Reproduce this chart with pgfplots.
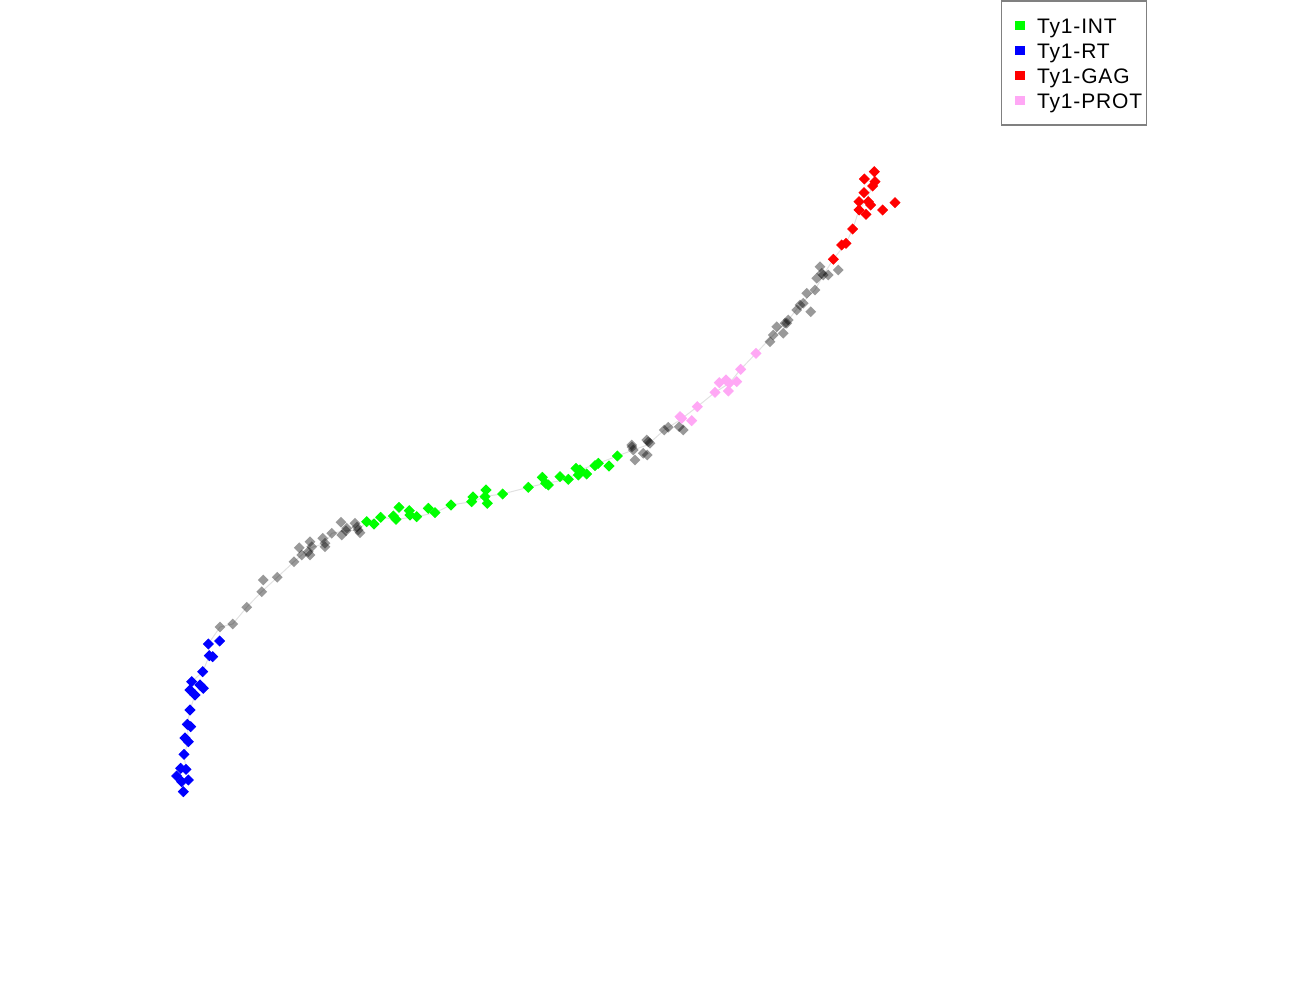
\documentclass[border=0pt]{standalone}
\usepackage{pgfplots}
\pgfplotsset{compat=1.18}
\usepackage{fontspec}
\setmainfont{Liberation Sans}
\newfontfamily\legfont{Liberation Sans}[LetterSpace=4]

\definecolor{cint}{RGB}{0,255,0}
\definecolor{crt}{RGB}{0,0,255}
\definecolor{cgag}{RGB}{255,0,0}
\definecolor{cprot}{RGB}{255,168,245}
\definecolor{clink}{RGB}{225,225,225}

% point positions read in picture pixels (y downwards)
\pgfplotstableread{
x y
220 627
232.7 624
246.7 607.3
261.7 591.7
263.3 580
277.3 577.3
294 561.7
299.3 547.7
301.7 555
310 541.7
311.7 546.7
310 555
308.3 551.7
322.7 538.3
325 543.3
325 546.7
331.7 533.3
341 522.3
341.7 535
346 530.7
346.7 528.3
355 523.3
358.3 530
360 532.7
357 527
631.7 445
633.3 450
632 447
635 460
643.3 453.3
648.3 441.7
647.3 455
664.3 430
668.3 427.3
679.3 426.7
683.3 430
646.7 440
650 443.3
770 341.7
773.3 335
776.7 326.7
783.3 333.3
786.7 323.3
785 323.3
788.3 320
796.7 310
800 305
803.3 303.3
810.7 311.7
806.7 293.3
815 290
816.7 278.3
820 266.7
823.3 275
828.3 275
838.3 270
821.7 273.3
}\greydata

\pgfplotstableread{
x y
208.3 644
219.7 641
209.3 655.7
212.7 656.7
202.7 671.7
191.7 681.7
200 685
190 690
195 695
203.3 688.3
190 710
187.3 724.3
190.7 726.7
185 738
188.3 741.7
184 754.3
180.7 768.3
186 769.3
176.7 776
181.7 781.7
188.3 780
183.3 791.7
}\rtdata

\pgfplotstableread{
x y
366.7 521.7
374 524
380.7 517.3
393.3 516
396 519.3
399 507.3
409.3 510.7
410 515
416.7 516.7
428.3 508.3
435 512.7
451 505
471.7 501.7
473 497
487.3 503.3
486 490
485 496.7
502.7 494
528.3 487.3
542.3 477.3
545.7 483.3
548.3 485
560 476.7
568.3 479.3
576 468.3
578.3 475
580 470
586.7 474
595 465.7
598.3 463.3
609 466
617.3 456
}\intdata

\pgfplotstableread{
x y
680 416.7
681.7 418.3
691.7 420.7
697.3 406.7
715 392.3
719.3 382.7
726 380
728.3 391
736.7 381.7
729.3 383.3
740.7 369.3
756 353.3
}\protdata

\pgfplotstableread{
x y
833.3 259.3
841.7 245
846 243.3
852.7 229
859 210
866 214.3
859 201.7
868.3 201.7
870.7 205
864 192.7
882.7 210
895 202.7
872.7 186
875 181.7
864.3 179
874.3 171.7
}\gagdata

% order of the faint connecting line
\pgfplotstableread{
x y
183.3 791.7
181.7 781.7
176.7 776
186 769.3
184 754.3
188.3 741.7
187.3 724.3
190 710
195 695
190 690
191.7 681.7
202.7 671.7
209.3 655.7
208.3 644
220 627
232.7 624
246.7 607.3
261.7 591.7
277.3 577.3
294 561.7
301.7 555
310 548
325 543.3
331.7 533.3
346 530.7
358.3 530
366.7 521.7
380.7 517.3
396 519.3
416.7 516.7
435 512.7
451 505
471.7 501.7
487.3 496
502.7 494
528.3 487.3
545.7 483.3
568.3 479.3
580 470
598.3 463.3
617.3 456
633.3 450
647.3 445
664.3 430
680 420
697.3 406.7
715 392.3
729.3 383.3
740.7 369.3
756 353.3
773.3 335
788.3 320
800 305
815 290
823.3 275
833.3 259.3
846 243.3
852.7 229
859 210
866 200
870.7 190
874.3 175
}\linkdata

\begin{document}
\begin{tikzpicture}
\begin{axis}[
    width=650pt, height=500pt,
    scale only axis,
    hide axis,
    clip=false,
    xmin=0, xmax=1300,
    ymin=0, ymax=1000,
    y dir=reverse,
    legend style={
        at={(axis cs:1000.5,0.5)}, anchor=north west,
        draw=gray, line width=0.6pt,
        font=\legfont\fontsize{10.5pt}{12.5pt}\selectfont,
        inner xsep=2pt, inner ysep=6.3pt,
        row sep=1pt,
        nodes={inner sep=0pt, text height=9.7pt, text depth=1.9pt},
        /tikz/every odd column/.append style={column sep=6pt},
    },
    legend cell align=left,
    legend image code/.code={
        \path[draw=none, fill=none] (0pt,0pt) -- (10pt,0pt);
        \fill[draw=none] (5pt,-2.25pt) rectangle (10pt,2.25pt);
    },
    every axis plot/.append style={
        only marks, mark=square*,
        mark size=1.75pt,
    },
]
\addplot[no marks, color=clink, line width=0.5pt, forget plot, sharp plot]
    table[x=x, y=y] {\linkdata};
\addplot[color=black, forget plot, mark size=1.9pt,
    mark options={rotate=45, fill=black, draw opacity=0, fill opacity=0.4}]
    table[x=x, y=y] {\greydata};
\addplot[color=cint, mark options={rotate=45}]
    table[x=x, y=y] {\intdata};
\addplot[color=crt, mark options={rotate=45}]
    table[x=x, y=y] {\rtdata};
\addplot[color=cgag, mark options={rotate=45}]
    table[x=x, y=y] {\gagdata};
\addplot[color=cprot, mark options={rotate=45}]
    table[x=x, y=y] {\protdata};
\legend{Ty1-INT, Ty1-RT, Ty1-GAG, Ty1-PROT}
\end{axis}
\pgfresetboundingbox
\path (current axis.south west) rectangle (current axis.north east);
\end{tikzpicture}
\end{document}
